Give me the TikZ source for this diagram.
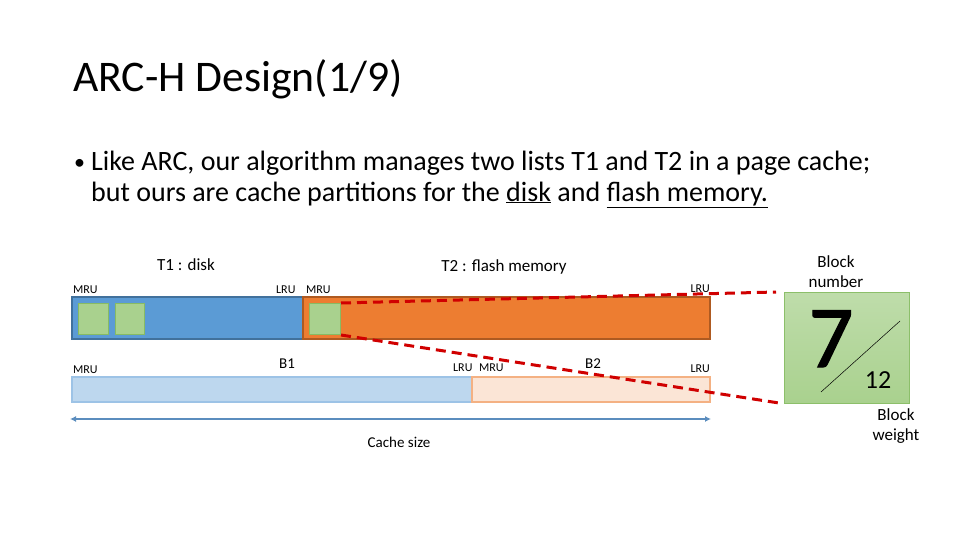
\documentclass[tikz,border=0pt]{standalone}
\usepackage{fontspec}
\setmainfont{Carlito}
\newfontfamily\sevenfont{Carlito}[FakeBold=1.5]
\usetikzlibrary{arrows.meta}
\definecolor{barblue}{HTML}{5B9BD5}
\definecolor{barblueb}{HTML}{41719C}
\definecolor{barorange}{HTML}{ED7D31}
\definecolor{barorangeb}{HTML}{AE5A21}
\definecolor{sqgreen}{HTML}{A9D18E}
\definecolor{sqgreenb}{HTML}{70AD47}
\definecolor{ltblue}{HTML}{BDD7EE}
\definecolor{ltblueb}{HTML}{9DC3E6}
\definecolor{ltorange}{HTML}{FBE5D6}
\definecolor{ltorangeb}{HTML}{F4B183}
\definecolor{arrowblue}{HTML}{5B8DBE}
\definecolor{dashred}{HTML}{D00000}
\tikzset{
  lbl/.style={inner sep=0pt, font=\fontsize{12}{13}\selectfont},
  hdr/.style={inner sep=0pt, font=\fontsize{17}{19}\selectfont},
  sq/.style={draw=sqgreenb!60!sqgreen, fill=sqgreen, line width=1pt},
  reddash/.style={draw=dashred, line width=3pt, dash pattern=on 10pt off 6pt},
}
\begin{document}
\begin{tikzpicture}[x=1pt,y=-1pt]
\useasboundingbox (0,0) rectangle (960,540);
% title
\node[inner sep=0pt, anchor=base west, font=\fontsize{43.7}{48}\selectfont] (title) at (73,92) {ARC-H Design(1/9)};
% bullet
\node[inner sep=0pt, anchor=base west, font=\fontsize{22}{30}\selectfont] (bul) at (74,170) {•};
\node[inner sep=0pt, anchor=base west, font=\fontsize{28}{30}\selectfont] (line1) at (91,171) {Like ARC, our algorithm manages two lists T1 and T2 in a page cache;};
\node[inner sep=0pt, anchor=base west, font=\fontsize{28}{30}\selectfont] (line2) at (91,201) {but ours are cache partitions for the \underline{disk} and \underline{flash memory.}};
% headers
\node[hdr, anchor=base] (t1) at (186,270) {T1 : disk};
\node[hdr, anchor=base] (t2) at (504,271) {T2 : flash memory};
% bars
\draw[fill=barblue, draw=barblueb, line width=1.5pt] (72,297) rectangle (303,339);
\draw[fill=barorange, draw=barorangeb, line width=1.5pt] (303,297) rectangle (710,339);
\node[sq, minimum width=30pt, minimum height=31pt, inner sep=0pt, anchor=north west] (s1) at (78,303) {};
\node[sq, minimum width=29pt, minimum height=31pt, inner sep=0pt, anchor=north west] (s2) at (115,303) {};
\node[sq, minimum width=31pt, minimum height=31pt, inner sep=0pt, anchor=north west] (s3) at (309,303) {};
\draw[fill=ltblue, draw=ltblueb, line width=1.2pt] (72,377) rectangle (472,402);
\draw[fill=ltorange, draw=ltorangeb, line width=1.2pt] (472,377) rectangle (710,402);
% small labels
\node[lbl, anchor=base west] (m1) at (73,293) {MRU};
\node[lbl, anchor=base west] (l1) at (276,293) {LRU};
\node[lbl, anchor=base west] (m2) at (306,293) {MRU};
\node[lbl, anchor=base east] (l2) at (710,292) {LRU};
\node[lbl, anchor=base west] (m3) at (73,373) {MRU};
\node[lbl, anchor=base] (b1) at (287,368) {\fontsize{15}{16}\selectfont B1};
\node[lbl, anchor=base west] (l3) at (453,371) {LRU};
\node[lbl, anchor=base west] (m4) at (479,371) {MRU};
\node[lbl, anchor=base] (b2) at (593,368) {\fontsize{15}{16}\selectfont B2};
\node[lbl, anchor=base east] (l4) at (710,372) {LRU};
% cache size arrow
\coordinate (ca) at (70,419);
\coordinate (cb) at (711,419);
\draw[arrowblue, line width=1.5pt, {Latex[length=6pt,width=6pt]}-{Latex[length=6pt,width=6pt]}] (ca) -- (cb);
\node[inner sep=0pt, anchor=base, font=\fontsize{15}{16}\selectfont] (cs) at (399,447) {Cache size};
% block
\node[draw=sqgreenb!50!sqgreen, line width=1pt, top color=sqgreen!75!white, bottom color=sqgreen, minimum width=125pt, minimum height=111pt, inner sep=0pt, anchor=north west] (blk) at (784,292) {};
\node[inner sep=0pt, anchor=base, font=\sevenfont\fontsize{88}{90}\selectfont] (seven) at (831,367) {7};
\coordinate (d1) at (821,392);
\coordinate (d2) at (900,321);
\draw[black, line width=0.5pt] (d1) -- (d2);
\node[inner sep=0pt, anchor=base, font=\fontsize{26}{28}\selectfont] (w) at (878,388) {12};
\node[inner sep=0pt, align=center, font=\fontsize{17}{20}\selectfont] (bn) at (836,272) {Block\\number};
\node[inner sep=0pt, align=center, font=\fontsize{17}{20}\selectfont] (bw) at (896,426) {Block\\weight};
% red dashed lines
\coordinate (r1) at (776,292);
\coordinate (r2) at (779,403);
\draw[reddash] (s3.north east) -- (r1);
\draw[reddash] (s3.south east) -- (r2);
\end{tikzpicture}
\end{document}
